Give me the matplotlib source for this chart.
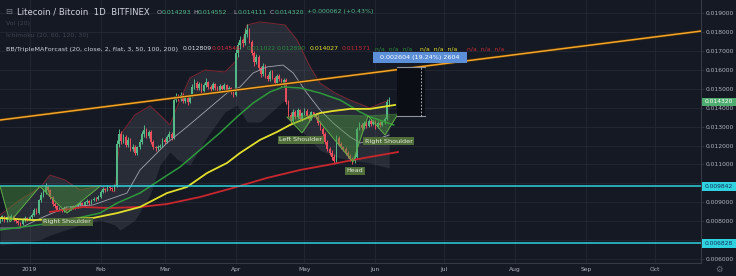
import matplotlib
matplotlib.use("Agg")
import matplotlib.pyplot as plt
from matplotlib.patches import Rectangle, Polygon
from matplotlib.transforms import blended_transform_factory
import numpy as np

W, H = 736, 276
SCALE = 1e-3  # values below are in thousandths of BTC

# ---------------- data ----------------
first_day = -13          # days relative to 2019-01-01
first_open = 8.00
closes = [8.10, 8.25, 8.05, 8.20, 8.15, 8.30, 8.10, 8.00, 7.90, 7.85, 8.05, 8.15, 8.10,
          8.20, 8.35, 8.60, 8.45, 9.10, 9.40, 9.55, 9.85, 9.65, 9.30,
          8.90, 8.80, 8.60, 8.65, 8.55, 8.70, 8.60, 8.65, 8.75, 8.70,
          8.80, 8.85, 8.95, 8.85, 9.00, 9.05, 8.95, 9.10, 9.20, 9.15, 9.30,
          9.55, 9.70, 9.65, 9.80, 9.75, 9.70, 9.85,
          12.10,
          12.60, 12.25, 12.45, 12.05, 12.30, 11.80, 11.95, 11.60, 11.90, 12.20, 12.60, 12.85,
          12.50, 12.70, 12.20, 11.90, 11.85, 11.95, 12.00, 12.30,
          12.20, 12.45, 12.60, 12.40,
          14.40,
          14.60, 14.45, 14.70, 14.35, 14.50, 14.30, 14.65,
          15.10, 15.30, 15.05, 15.25, 14.90, 15.20, 15.35, 15.10,
          15.00, 15.25, 15.05, 14.90, 15.15, 15.00, 15.20, 14.95, 15.05, 14.85, 14.70,
          16.90, 17.30, 17.60, 17.40, 17.90, 18.10, 17.50,
          16.90, 16.40, 16.70, 16.10, 15.80, 16.20, 15.70,
          15.50, 15.90, 15.60, 15.30, 15.70, 15.50, 15.20, 15.45,
          14.30, 13.60, 13.30,
          13.80, 13.50, 13.90, 13.40, 13.70, 13.85, 13.55, 13.40, 13.75, 13.60, 13.50,
          13.20, 12.90, 12.60, 12.20, 11.80, 11.60, 11.40, 11.20,
          12.40, 12.10, 11.90, 11.80, 11.60, 11.45, 11.30, 11.20, 11.40,
          12.90, 13.10, 12.95, 13.20, 13.05, 13.30, 13.15, 13.25, 13.00, 13.20, 13.10, 13.25,
          13.40, 14.29, 14.32]
highs = [8.20, 8.35, 8.30, 8.30, 8.28, 8.40, 8.35, 8.18, 8.05, 7.98, 8.15, 8.25, 8.22,
         8.30, 8.45, 8.70, 8.68, 9.20, 9.55, 9.70, 10.02, 9.90, 9.70,
         9.35, 9.00, 8.88, 8.75, 8.72, 8.78, 8.78, 8.72, 8.82, 8.85,
         8.88, 8.95, 9.05, 9.00, 9.08, 9.15, 9.10, 9.18, 9.30, 9.28, 9.40,
         9.65, 9.82, 9.78, 9.90, 9.88, 9.82, 9.95,
         12.30,
         12.90, 12.75, 12.60, 12.55, 12.45, 12.40, 12.10, 12.05, 12.00, 12.35, 12.75, 13.10,
         12.95, 12.85, 12.80, 12.30, 12.00, 12.05, 12.10, 12.40,
         12.40, 12.55, 12.75, 12.70,
         14.60,
         14.80, 14.75, 14.85, 14.80, 14.65, 14.60, 14.75,
         15.25, 15.50, 15.40, 15.35, 15.30, 15.30, 15.55, 15.40,
         15.20, 15.35, 15.30, 15.15, 15.25, 15.20, 15.30, 15.25, 15.15, 15.10, 14.95,
         17.10, 17.50, 17.80, 17.70, 18.20, 18.45, 18.20,
         17.60, 17.00, 16.85, 16.80, 16.20, 16.35, 16.30,
         15.80, 16.00, 16.00, 15.70, 15.80, 15.80, 15.60, 15.55,
         15.55, 14.40, 13.80,
         13.95, 13.90, 14.00, 13.95, 13.80, 14.00, 13.95, 13.65, 13.85, 13.80, 13.70,
         13.60, 13.30, 13.00, 12.70, 12.30, 11.95, 11.75, 11.55,
         12.55, 12.50, 12.20, 12.00, 11.90, 11.70, 11.55, 11.40, 11.55,
         13.00, 13.25, 13.20, 13.30, 13.30, 13.40, 13.40, 13.35, 13.35, 13.30, 13.30, 13.35,
         13.50, 14.45, 14.55]
lows = [7.92, 8.02, 7.98, 7.98, 8.05, 8.08, 8.02, 7.92, 7.80, 7.70, 7.80, 7.98, 8.02,
        8.05, 8.12, 8.30, 8.38, 8.40, 9.00, 9.30, 9.45, 9.55, 9.20,
        8.80, 8.70, 8.52, 8.55, 8.48, 8.50, 8.55, 8.55, 8.60, 8.62,
        8.65, 8.72, 8.80, 8.78, 8.80, 8.92, 8.88, 8.90, 9.05, 9.08, 9.10,
        9.25, 9.48, 9.55, 9.58, 9.65, 9.60, 9.62,
        9.80,
        11.95, 12.10, 12.15, 11.95, 11.95, 11.70, 11.70, 11.50, 11.50, 11.80, 12.10, 12.45,
        12.40, 12.40, 12.10, 11.80, 11.70, 11.75, 11.88, 11.92,
        12.10, 12.15, 12.35, 12.30,
        12.35,
        14.30, 14.35, 14.35, 14.25, 14.25, 14.15, 14.25,
        14.55, 15.00, 14.95, 14.95, 14.80, 14.85, 15.10, 15.00,
        14.90, 14.95, 14.95, 14.80, 14.85, 14.90, 14.92, 14.85, 14.88, 14.75, 14.55,
        14.60, 16.70, 17.10, 17.20, 17.30, 17.75, 17.40,
        16.80, 16.20, 16.30, 16.00, 15.65, 15.70, 15.60,
        15.40, 15.40, 15.50, 15.20, 15.20, 15.40, 15.10, 15.10,
        14.20, 13.50, 13.20,
        13.20, 13.40, 13.40, 13.30, 13.30, 13.60, 13.45, 13.25, 13.35, 13.50, 13.40,
        13.10, 12.80, 12.50, 12.10, 11.70, 11.50, 11.25, 11.05,
        11.10, 12.00, 11.80, 11.70, 11.50, 11.35, 11.20, 11.05, 11.10,
        11.35, 12.80, 12.85, 12.90, 12.95, 13.00, 13.05, 13.10, 12.90, 12.95, 13.00, 13.05,
        13.15, 13.35, 14.11]

# Bollinger basis (20) and bands
ma20_days = [-12.9, -4.2, 5.9, 16.3, 27.7, 36.4, 42.5, 48.2, 53.9, 60, 68.7, 77.5, 86.2,
             91.9, 97.6, 103.7, 110.7, 115.1, 121.1, 126.8, 132.5, 139.9, 144.3, 150.8, 157]
ma20_vals = [7.64, 7.64, 8.22, 8.75, 8.86, 9.23, 9.49, 10.71, 11.40, 12.14, 12.99, 13.89, 14.78,
             15.10, 15.84, 16.16, 16.26, 15.84, 14.78, 13.89, 13.20, 12.46, 12.14, 12.30, 12.56]
bb_days = [-12.9, -4.2, 4.5, 8.9, 15.5, 22.0, 30.7, 37.3, 39.5, 46.0, 52.6, 56.9, 61.3, 64.8,
           70.0, 76.6, 85.3, 90.6, 94.9, 100.6, 111.5, 116.8, 122.5, 126.8, 133.4, 139.9, 148.6, 157]
bb_upper = [8.33, 9.12, 9.76, 10.44, 10.18, 9.65, 9.86, 9.54, 12.56, 13.62, 14.10, 13.62, 13.09, 14.15,
            15.58, 16.00, 15.89, 16.53, 18.38, 18.54, 18.38, 17.59, 16.16, 15.31, 14.78, 14.41, 13.99, 14.41]
bb_lower = [6.74, 6.85, 7.01, 7.27, 7.53, 7.80, 8.06, 7.80, 7.53, 8.06, 9.39, 10.97, 11.66, 11.24,
            10.97, 12.30, 13.78, 14.15, 13.25, 13.25, 14.41, 13.09, 12.30, 11.77, 11.40, 11.24, 11.08, 10.81]

ma50_days = [-12.9, 13.3, 30.7, 38.2, 48.2, 56.9, 65.7, 74.4, 83.1, 90.6, 97.6, 105, 110.7,
             118.1, 126.8, 135.6, 144.3, 148.6, 159]
ma50_vals = [7.54, 7.96, 8.43, 8.96, 9.49, 10.18, 10.87, 11.77, 12.67, 13.52, 14.25, 14.84, 15.10,
             15.05, 14.78, 14.41, 13.78, 13.52, 13.09]
ma100_days = [-12.9, 1.5, 27.7, 38.2, 48.2, 60, 68.7, 77.5, 86.2, 91.9, 100.6, 108, 113.7,
              121.1, 126.8, 132.5, 139.9, 148.6, 159.6]
ma100_vals = [8.17, 8.06, 8.17, 8.43, 8.75, 9.49, 9.81, 10.55, 11.08, 11.61, 12.30, 12.72, 13.09,
              13.46, 13.72, 13.83, 13.94, 13.94, 14.15]
ma200_days = [8.9, 23.3, 35.1, 48.2, 60, 74.4, 88.8, 103.7, 118.1, 129.9, 141.3, 148.6, 160.9]
ma200_vals = [8.49, 8.75, 8.70, 8.75, 8.91, 9.28, 9.76, 10.29, 10.71, 10.97, 11.24, 11.40, 11.66]

trend_days = [-13, 293.5]
trend_vals = [13.35, 18.06]
support_levels = [9.842, 6.828]
support_labels = ["0.009842", "0.006828"]
last_price = 14.320
last_label = "0.014320"

# head & shoulders drawings (day, price)
hs_main = [(112.4, 13.51), (119.0, 12.67), (124.2, 13.62), (141.2, 11.13),
           (147.8, 13.57), (155.2, 12.56), (160.9, 13.67)]
hs_left = [(-12.9, 9.84), (-8.6, 7.96), (4.5, 9.84), (16.3, 8.43), (30.7, 9.84)]
hs_labels = [("Left Shoulder", 118.5, 12.30), ("Head", 142.1, 10.67),
             ("Right Shoulder", 156.9, 12.24), ("Right Shoulder", 16.4, 7.96)]

measure_days = [160.5, 172.7]
measure_prices = [13.556, 16.160]
measure_line_day = 170.9
measure_text = "0.002604 (19.24%) 2604"

month_days = [0, 31, 59, 90, 120, 151, 181, 212, 243, 273]
month_labels = ["2019", "Feb", "Mar", "Apr", "May", "Jun", "Jul", "Aug", "Sep", "Oct"]
price_ticks = [6, 7, 8, 9, 10, 11, 12, 13, 14, 15, 16, 17, 18, 19]
covered_ticks = [7, 10]   # hidden behind the price badges

# ---------------- style ----------------
BG = "#151924"
GRID = "#242835"
TXT = "#b2b5be"
UP = "#53b987"
DOWN = "#eb4d5c"
CYAN = "#2fd3df"

fig = plt.figure(figsize=(W / 100, H / 100), dpi=100, facecolor=BG)
ax = fig.add_axes([0, 13 / H, 701 / W, 263 / H], facecolor=BG)

s = lambda v: np.asarray(v, dtype=float) * SCALE

days = np.arange(first_day, first_day + len(closes))
c = np.array(closes)
o = np.array([first_open] + closes[:-1])
hi = np.array(highs)
lo = np.array(lows)
up = c >= o
cols = np.where(up, UP, DOWN)

# Bollinger band
ax.fill_between(bb_days, s(bb_lower), s(bb_upper), color="#8a8e99", alpha=0.17, lw=0, zorder=1)
ax.plot(bb_days, s(bb_upper), color="#7a2833", lw=0.7, zorder=1.2)

# candles
ax.vlines(days, s(lo), s(hi), colors=cols, lw=0.7, zorder=3)
body_h = np.maximum(np.abs(c - o), 0.04)
ax.bar(days, s(body_h), bottom=s(np.minimum(o, c)), width=0.72, color=cols, lw=0, zorder=3.1)

# moving averages
ax.plot(ma20_days, s(ma20_vals), color="#a3a6ae", lw=0.6, zorder=4)
ax.plot(ma200_days, s(ma200_vals), color="#c9262d", lw=1.3, zorder=4)
ax.plot(ma50_days, s(ma50_vals), color="#2c9a3a", lw=1.1, zorder=4)
ax.plot(ma100_days, s(ma100_vals), color="#e3e02a", lw=1.3, zorder=4)

# trend line and support lines
ax.plot(trend_days, s(trend_vals), color="#3a2a12", lw=2.2, zorder=4.5, solid_capstyle="butt")
ax.plot(trend_days, s(trend_vals), color="#f5a425", lw=1.1, zorder=4.6)
for lvl in support_levels:
    ax.axhline(lvl * SCALE, color=CYAN, lw=1.1, zorder=4.5)

# head & shoulders shapes
def draw_hs(pts):
    for k in range(0, len(pts) - 2, 2):
        tri = [(d, v * SCALE) for d, v in pts[k:k + 3]]
        ax.add_patch(Polygon(tri, closed=True, facecolor="#4b9a3c", alpha=0.42,
                             edgecolor="#5fb04a", lw=0.6, zorder=5))
    ax.plot([p[0] for p in pts], s([p[1] for p in pts]), color="#5fb04a", lw=0.6, zorder=5)

draw_hs(hs_main)
draw_hs(hs_left)
for txt, d, v in hs_labels:
    ax.text(d, v * SCALE, txt, fontsize=4.6, color="#e8eadf", ha="center", va="center", zorder=7,
            bbox=dict(boxstyle="square,pad=0.25", fc="#4f6e3a", ec="none"))

# measure tool
ax.add_patch(Rectangle((measure_days[0], measure_prices[0] * SCALE),
                       measure_days[1] - measure_days[0],
                       (measure_prices[1] - measure_prices[0]) * SCALE,
                       facecolor="#0b0e15", edgecolor="none", zorder=6))
for pv in measure_prices:
    ax.plot(measure_days, [pv * SCALE] * 2, color="#8f939c", lw=0.8, zorder=6.1)
ax.plot([measure_line_day] * 2, s(measure_prices), color="#d0d2d8", lw=0.6, ls=(0, (2, 2)), zorder=6.2)

# axes
ax.set_xlim(-12.93, 293.2)
ax.set_ylim(5.79 * SCALE, 19.70 * SCALE)
ax.set_xticks(month_days)
ax.set_xticklabels(month_labels)
ax.set_yticks([p * SCALE for p in price_ticks])
ax.set_yticklabels(["" if p in covered_ticks else f"{p * SCALE:.6f}" for p in price_ticks])
ax.yaxis.tick_right()
ax.tick_params(axis="y", length=2, width=0.5, color="#363a45", labelsize=4.3, labelcolor=TXT, pad=1.5)
ax.tick_params(axis="x", length=0, labelsize=4.3, labelcolor=TXT, pad=3)
ax.grid(True, color=GRID, lw=0.6, zorder=0)
ax.set_axisbelow(True)
for side in ("top", "left"):
    ax.spines[side].set_visible(False)
for side in ("right", "bottom"):
    ax.spines[side].set_color("#363a45")
    ax.spines[side].set_linewidth(0.8)

# price badges on the right axis
blend = blended_transform_factory(fig.transFigure, ax.transData)
def badge(price, label, fc, tc):
    ax.add_patch(Rectangle((702 / W, (price - 0.22) * SCALE), 34 / W, 0.44 * SCALE,
                           transform=blend, facecolor=fc, edgecolor="none", clip_on=False, zorder=8))
    ax.text(719 / W, price * SCALE, label, transform=blend, fontsize=4.3, color=tc,
            ha="center", va="center", zorder=9, clip_on=False)

badge(last_price, last_label, "#4fae6f", "#ffffff")
for lvl, lab in zip(support_levels, support_labels):
    badge(lvl, lab, CYAN, "#13305a")

# ---------------- header / overlays (pixel positions) ----------------
def ft(x, y, t, color, size, **kw):
    fig.text(x / W, 1 - y / H, t, color=color, fontsize=size, va="center", ha="left", zorder=20, **kw)

# measurement label box
fig.add_artist(Rectangle((373 / W, 1 - 63 / H), 94 / W, 11 / H, transform=fig.transFigure,
                         facecolor="#5b8fd8", edgecolor="none", zorder=15))
fig.text(420 / W, 1 - 58 / H, measure_text, color="#ffffff", fontsize=4.6, ha="center", va="center", zorder=16)

ft(5, 12, "\u229f", "#787b86", 6.0)
ft(17, 12, "Litecoin / Bitcoin  1D  BITFINEX", "#d1d4dc", 6.1)
ohlc = [("O", "0.014293", 157), ("H", "0.014552", 193), ("L", "0.014111", 233), ("C", "0.014320", 270)]
for letter, val, x in ohlc:
    ft(x, 12, letter, "#b2b5be", 4.5)
    ft(x + 4.2, 12, val, UP, 4.5)
ft(307, 12, "+0.000062 (+0.43%)", UP, 4.5)
ft(6, 24, "Vol (20)", "#3f4350", 4.5)
ft(6, 36, "Ichimoku (20, 60, 120, 30)", "#3f4350", 4.5)
ft(6, 49, "BB/TripleMAForcast (20, close, 2, flat, 3, 50, 100, 200)", "#d1d4dc", 4.6)
vals = [("0.012809", "#e0e2e8", 183), ("0.014546", "#d0303c", 212), ("0.011022", "#2c8a3a", 247),
        ("0.012890", "#2c8a3a", 277), ("0.014027", "#e3e02a", 310), ("0.011571", "#c02a33", 342)]
for t, col, x in vals:
    ft(x, 49, t, col, 4.4)
ft(375, 49, "n/a  n/a  n/a", "#2c8a3a", 4.4)
ft(420, 49, "n/a  n/a  n/a", "#e3e02a", 4.4)
ft(467, 49, "n/a  n/a  n/a", "#c02a33", 4.4)
fig.text(719 / W, 1 - 269 / H, "\u2699", color="#6b6f7a", fontsize=6, ha="center", va="center")

fig.savefig("out.png", dpi=100, facecolor=BG)
